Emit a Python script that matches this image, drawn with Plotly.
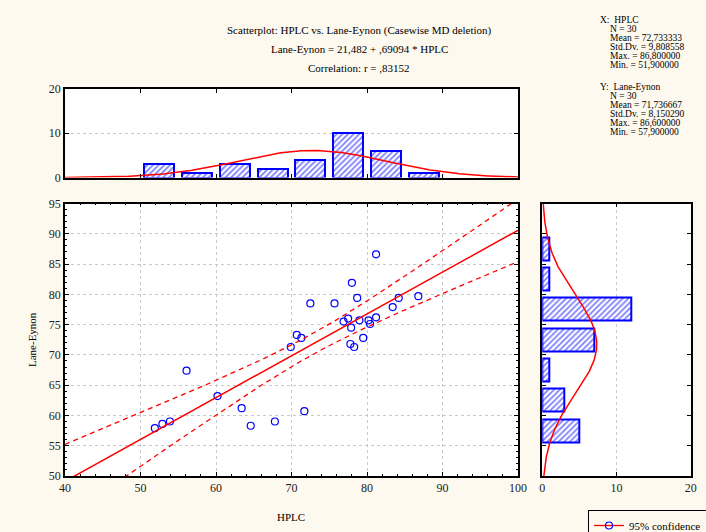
import numpy as np
import plotly.graph_objects as go

# ---------------- data ----------------
hplc = [81.2, 78.0, 78.7, 72.5, 75.7, 86.8, 84.2, 83.4, 81.2, 80.2,
        80.4, 79.0, 77.5, 76.9, 77.9, 79.5, 77.8, 78.3, 70.7, 71.3,
        69.9, 56.1, 60.2, 63.4, 71.7, 64.6, 67.8, 51.9, 52.9, 53.9]
lane_eynon = [86.6, 81.9, 79.4, 78.5, 78.5, 79.7, 79.4, 77.9, 76.2, 75.7,
              75.1, 75.7, 76.0, 75.5, 74.5, 72.8, 71.8, 71.3, 73.3, 72.8,
              71.3, 67.4, 63.2, 61.2, 60.7, 58.3, 59.0, 57.9, 58.6, 59.0]

x_bin_centers = [52.5, 57.5, 62.5, 67.5, 72.5, 77.5, 82.5, 87.5]
x_bin_counts = [3, 1, 3, 2, 4, 10, 6, 1]
y_bin_centers = [57.5, 62.5, 67.5, 72.5, 77.5, 82.5, 87.5]
y_bin_counts = [5, 3, 1, 7, 12, 1, 1]
bin_width = 5

n_obs = 30
x_mean, x_sd = 72.733333, 9.808558
y_mean, y_sd = 71.736667, 8.150290
intercept, slope, r_corr = 21.482, 0.69094, 0.83152
t_crit = 2.048

x_ticks = [40, 50, 60, 70, 80, 90, 100]
y_ticks = [50, 55, 60, 65, 70, 75, 80, 85, 90, 95]

# ---------------- derived lines ----------------
xs = np.linspace(40, 100, 301)
fit = intercept + slope * xs
s_res = y_sd * np.sqrt(1 - r_corr ** 2) * np.sqrt((n_obs - 1) / (n_obs - 2))
sxx = (n_obs - 1) * x_sd ** 2
half = t_crit * s_res * np.sqrt(1 / n_obs + (xs - x_mean) ** 2 / sxx)

def norm_curve(v, m, s):
    return n_obs * bin_width * np.exp(-0.5 * ((v - m) / s) ** 2) / (s * np.sqrt(2 * np.pi))

ys = np.linspace(50, 95, 301)

W, H = 706, 532
BG = "#FEF9EE"
FONT = "Liberation Serif"
BLUE = "#0000FF"
RED = "#FF0000"

fig = go.Figure()

# scatter
fig.add_trace(go.Scatter(x=hplc, y=lane_eynon, mode="markers",
                         marker=dict(symbol="circle-open", size=7, color=BLUE, line=dict(width=1.2)),
                         showlegend=False, xaxis="x", yaxis="y"))
fig.add_trace(go.Scatter(x=xs, y=fit, mode="lines", line=dict(color=RED, width=1.5),
                         showlegend=False, xaxis="x", yaxis="y"))
fig.add_trace(go.Scatter(x=xs, y=fit + half, mode="lines", line=dict(color=RED, width=1.3, dash="5px,4px"),
                         showlegend=False, xaxis="x", yaxis="y"))
fig.add_trace(go.Scatter(x=xs, y=fit - half, mode="lines", line=dict(color=RED, width=1.3, dash="5px,4px"),
                         showlegend=False, xaxis="x", yaxis="y"))

hatch = dict(shape="/", fgcolor=BLUE, bgcolor="white", size=4, solidity=0.45)

# top histogram
fig.add_trace(go.Bar(x=x_bin_centers, y=x_bin_counts, width=4,
                     marker=dict(color="white", line=dict(color=BLUE, width=2), pattern=hatch),
                     showlegend=False, xaxis="x2", yaxis="y2"))
fig.add_trace(go.Scatter(x=xs, y=norm_curve(xs, x_mean, x_sd), mode="lines",
                         line=dict(color=RED, width=1.5), showlegend=False, xaxis="x2", yaxis="y2"))

# right histogram
fig.add_trace(go.Bar(y=y_bin_centers, x=y_bin_counts, width=3.8, orientation="h",
                     marker=dict(color="white", line=dict(color=BLUE, width=2), pattern=hatch),
                     showlegend=False, xaxis="x3", yaxis="y3"))
fig.add_trace(go.Scatter(y=ys, x=norm_curve(ys, y_mean, y_sd), mode="lines",
                         line=dict(color=RED, width=1.5), showlegend=False, xaxis="x3", yaxis="y3"))

# legend entry
fig.add_trace(go.Scatter(x=[None], y=[None], mode="lines+markers", name="95% confidence",
                         line=dict(color=RED, width=1.3),
                         marker=dict(symbol="circle-open", size=7, color=BLUE, line=dict(width=1.2)),
                         showlegend=True, xaxis="x", yaxis="y"))

def px_x(p):
    return p / W

def px_y(p):
    return (H - p) / H

tickfont = dict(family=FONT, size=12, color="#222222")
axis_common = dict(showline=True, linecolor="black", linewidth=1.5, mirror="ticks",
                   ticks="inside", ticklen=4, tickcolor="black", zeroline=False,
                   tickfont=tickfont, fixedrange=True)
grid = dict(showgrid=True, gridcolor="#C8C8C8", griddash="dot", gridwidth=1)

scatter_xdom = [px_x(65), px_x(518)]
scatter_ydom = [px_y(476), px_y(203.5)]

fig.update_layout(
    width=W, height=H,
    margin=dict(l=0, r=0, t=0, b=0, autoexpand=False),
    paper_bgcolor=BG, plot_bgcolor="white",
    font=dict(family=FONT, size=11, color="black"),
    bargap=0,
    xaxis=dict(domain=scatter_xdom, range=[40, 100], tickvals=x_ticks, anchor="y",
               minor=dict(dtick=2, ticks="inside", ticklen=2, tickcolor="black", showgrid=False),
               **grid, **axis_common),
    yaxis=dict(domain=scatter_ydom, range=[50, 95], tickvals=y_ticks, anchor="x",
               minor=dict(dtick=1, ticks="inside", ticklen=2, tickcolor="black", showgrid=False),
               **grid, **axis_common),
    xaxis2=dict(domain=scatter_xdom, range=[40, 100], tickvals=x_ticks, anchor="y2",
                showticklabels=False, showgrid=False, **axis_common),
    yaxis2=dict(domain=[px_y(177.5), px_y(89)], range=[0, 20], tickvals=[0, 10, 20], anchor="x2",
                **grid, **axis_common),
    xaxis3=dict(domain=[px_x(542.3), px_x(690.7)], range=[0, 20], tickvals=[0, 10, 20], anchor="y3",
                **grid, **axis_common),
    yaxis3=dict(domain=scatter_ydom, range=[50, 95], tickvals=y_ticks, anchor="x3",
                showticklabels=False, showgrid=False, **axis_common),
    legend=dict(x=px_x(588), y=px_y(510), xanchor="left", yanchor="top",
                bordercolor="black", borderwidth=1, bgcolor=BG,
                font=dict(family=FONT, size=11, color="black"), itemwidth=30,
                tracegroupgap=0),
)

ann = []
title_lines = ["Scatterplot: HPLC vs. Lane-Eynon (Casewise MD deletion)",
               "Lane-Eynon = 21,482 + ,69094 * HPLC",
               "Correlation: r = ,83152"]
for txt, yy in zip(title_lines, [30.7, 49.3, 68]):
    ann.append(dict(text=txt, x=px_x(359), y=px_y(yy), xref="paper", yref="paper",
                     xanchor="center", yanchor="middle", showarrow=False,
                     font=dict(family=FONT, size=11, color="black")))

stats_x = ["X:  HPLC", "N = 30", "Mean = 72,733333", "Std.Dv. = 9,808558",
           "Max. = 86,800000", "Min. = 51,900000"]
stats_y = ["Y:  Lane-Eynon", "N = 30", "Mean = 71,736667", "Std.Dv. = 8,150290",
           "Max. = 86,600000", "Min. = 57,900000"]
for block, y0 in [(stats_x, 20), (stats_y, 86.7)]:
    for i, txt in enumerate(block):
        xx = 597.5 if i == 0 else 607.7
        ann.append(dict(text=txt, x=px_x(xx), y=px_y(y0 + 9 * i), xref="paper", yref="paper",
                         xanchor="left", yanchor="middle", showarrow=False,
                         font=dict(family=FONT, size=9.5, color="black")))

ann.append(dict(text="HPLC", x=px_x(291), y=px_y(517), xref="paper", yref="paper",
                xanchor="center", yanchor="middle", showarrow=False,
                font=dict(family=FONT, size=11, color="black")))
ann.append(dict(text="Lane-Eynon", x=px_x(32), y=px_y(340), xref="paper", yref="paper",
                xanchor="center", yanchor="middle", showarrow=False, textangle=-90,
                font=dict(family=FONT, size=11, color="black")))
fig.update_layout(annotations=ann)

fig.write_html("out.html")
